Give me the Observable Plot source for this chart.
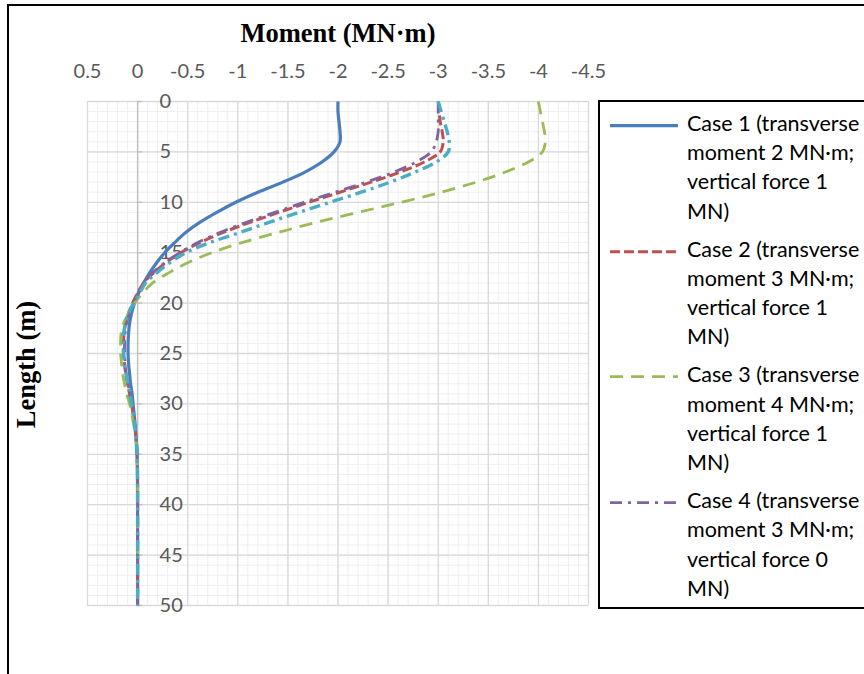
<!DOCTYPE html>
<html>
<head>
<meta charset="utf-8">
<script src="https://cdn.jsdelivr.net/npm/d3@7"></script>
<script src="https://cdn.jsdelivr.net/npm/@observablehq/plot@0.6"></script>
<style>
  html, body { margin: 0; padding: 0; background: #fff; }
  #wrap { position: relative; width: 864px; height: 674px; overflow: hidden; font-family: Lato, sans-serif; }
  #frame { position: absolute; left: 7px; top: 4px; width: 900px; height: 720px; border-left: 2px solid #000; border-top: 2px solid #000; }
  #chart { position: absolute; left: 0; top: 0; }
  #legend { position: absolute; left: 598px; top: 100px; width: 300px; height: 505px; border: 2px solid #000; background: #fff; }
  .entry { position: absolute; left: 0; width: 300px; }
  .entry svg { position: absolute; left: 10px; }
  .entry .txt { position: absolute; left: 87px; font-size: 21.5px; line-height: 29.3px; color: #000; white-space: nowrap; }
</style>
</head>
<body>
<div id="wrap">
  <div id="frame"></div>
  <div id="chart"></div>
  <div id="legend"></div>
</div>
<script>
// Depth along the pile (m)
const depth = [0,1,2,3,4,5,6,7,8,9,10,11,12,13,14,15,16,17,18,19,20,21,22,23,24,25,26,27,28,29,30,31,32,33,34,35,36,38,40,45,50];

// Bending moment (MN·m) at each depth for each load case
const case1 = [-2.00,-2.00,-2.01,-2.02,-2.02,-1.96,-1.84,-1.67,-1.45,-1.20,-0.98,-0.79,-0.62,-0.48,-0.37,-0.27,-0.19,-0.12,-0.06,-0.01,0.03,0.06,0.08,0.09,0.095,0.095,0.09,0.08,0.07,0.055,0.045,0.035,0.025,0.018,0.012,0.006,0.003,0.001,0,0,0];
const case2 = [-3.00,-3.01,-3.02,-3.04,-3.05,-3.02,-2.86,-2.62,-2.33,-2.02,-1.71,-1.41,-1.12,-0.85,-0.62,-0.43,-0.28,-0.16,-0.06,0.00,0.05,0.09,0.12,0.135,0.14,0.14,0.13,0.12,0.10,0.08,0.06,0.045,0.03,0.02,0.01,0.005,0.002,0,0,0,0];
const case3 = [-4.00,-4.02,-4.04,-4.06,-4.07,-4.04,-3.90,-3.67,-3.38,-3.03,-2.63,-2.20,-1.78,-1.40,-1.04,-0.74,-0.50,-0.31,-0.15,-0.05,0.03,0.09,0.14,0.165,0.17,0.17,0.16,0.15,0.13,0.11,0.08,0.06,0.04,0.025,0.012,0.005,0.002,0,0,0,0];
const case4 = [-3.00,-3.00,-3.00,-3.00,-2.98,-2.93,-2.78,-2.56,-2.28,-1.97,-1.66,-1.37,-1.08,-0.82,-0.60,-0.42,-0.27,-0.15,-0.06,-0.005,0.04,0.08,0.11,0.125,0.13,0.13,0.125,0.115,0.095,0.08,0.06,0.045,0.03,0.02,0.01,0.005,0.002,0,0,0,0];
const case5 = [-3.00,-3.03,-3.06,-3.09,-3.11,-3.10,-2.98,-2.77,-2.52,-2.23,-1.92,-1.61,-1.31,-1.02,-0.72,-0.48,-0.32,-0.19,-0.08,-0.02,0.04,0.09,0.12,0.14,0.145,0.14,0.13,0.115,0.095,0.075,0.06,0.045,0.03,0.02,0.01,0.005,0.002,0,0,0,0];

const caseLabels = [
  ["Case 1 (transverse", "moment 2 MN·m;", "vertical force 1", "MN)"],
  ["Case 2 (transverse", "moment 3 MN·m;", "vertical force 1", "MN)"],
  ["Case 3 (transverse", "moment 4 MN·m;", "vertical force 1", "MN)"],
  ["Case 4 (transverse", "moment 3 MN·m;", "vertical force 0", "MN)"]
];

const xTicks = [0.5, 0, -0.5, -1, -1.5, -2, -2.5, -3, -3.5, -4, -4.5];
const yTicks = [0, 5, 10, 15, 20, 25, 30, 35, 40, 45, 50];

// Line styles per series
const styles = [
  {values: case1, stroke: "#4A7EBB", width: 3.2, dash: null},
  {values: case2, stroke: "#C0504D", width: 3, dash: "10,4"},
  {values: case3, stroke: "#9BBB59", width: 2.8, dash: "13,8"},
  {values: case4, stroke: "#8064A2", width: 2.8, dash: "12,6,3,6"},
  {values: case5, stroke: "#4BACC6", width: 3.4, dash: "11,5,3,5"}
];

const xMinor = d3.range(5, -46, -1).map(d => d / 10);
const yMinor = d3.range(0, 51, 1);

const lineMarks = styles.map(s => Plot.line(
  depth.map((d, i) => ({depth: d, moment: s.values[i]})),
  {x: "moment", y: "depth", stroke: s.stroke, strokeWidth: s.width,
   strokeDasharray: s.dash, curve: "catmull-rom", strokeLinecap: "butt"}
));

const serif = "'Liberation Serif', 'Times New Roman', serif";

const chart = Plot.plot({
  width: 864,
  height: 674,
  marginLeft: 87,
  marginRight: 276,
  marginTop: 101,
  marginBottom: 69,
  style: {fontFamily: "Lato, sans-serif", background: "transparent", color: "#595959"},
  x: {domain: [0.5, -4.5], axis: null},
  y: {domain: [0, 50], reverse: true, axis: null},
  marks: [
    Plot.ruleX(xMinor, {stroke: "#efefef", strokeWidth: 1}),
    Plot.ruleY(yMinor, {stroke: "#efefef", strokeWidth: 1}),
    Plot.ruleX(xTicks, {stroke: "#d9d9d9", strokeWidth: 1.3}),
    Plot.ruleY(yTicks, {stroke: "#d9d9d9", strokeWidth: 1.3}),
    Plot.ruleX([0], {stroke: "#bfbfbf", strokeWidth: 1.3}),
    Plot.ruleY(yTicks, {x1: 0, x2: -0.05, stroke: "#bfbfbf", strokeWidth: 1.3}),
    Plot.text(xTicks, {x: d => d, frameAnchor: "top", dy: -38, text: d => String(d),
      fontSize: 20, fill: "#595959"}),
    Plot.text(yTicks, {x: () => 0, y: d => d, dx: 22, textAnchor: "start", text: d => String(d),
      fontSize: 20, fill: "#595959"}),
    ...lineMarks,
    Plot.text(["Moment (MN·m)"], {frameAnchor: "top", dy: -78, fontFamily: serif,
      fontWeight: "bold", fontSize: 26.5, fill: "#000"}),
    Plot.text(["Length (m)"], {frameAnchor: "left", textAnchor: "middle", dx: -61, dy: 11, rotate: -90,
      fontFamily: serif, fontWeight: "bold", fontSize: 26.5, fill: "#000"})
  ]
});
document.getElementById("chart").appendChild(chart);

// Legend: one entry per load case, with a sample of the series line
const legend = document.getElementById("legend");
caseLabels.forEach((lines, i) => {
  const s = styles[i];
  const top = 21.5 - 14.65 + i * 125.7;
  const entry = document.createElement("div");
  entry.className = "entry";
  entry.style.top = top + "px";
  const svg = d3.create("svg").attr("width", 70).attr("height", 30).style("top", "2px");
  svg.append("line").attr("x1", 0).attr("x2", 68).attr("y1", 14.65).attr("y2", 14.65)
    .attr("stroke", s.stroke).attr("stroke-width", s.width)
    .attr("stroke-dasharray", s.dash);
  entry.appendChild(svg.node());
  const txt = document.createElement("div");
  txt.className = "txt";
  txt.innerHTML = lines.join("<br>");
  entry.appendChild(txt);
  legend.appendChild(entry);
});
</script>
</body>
</html>
